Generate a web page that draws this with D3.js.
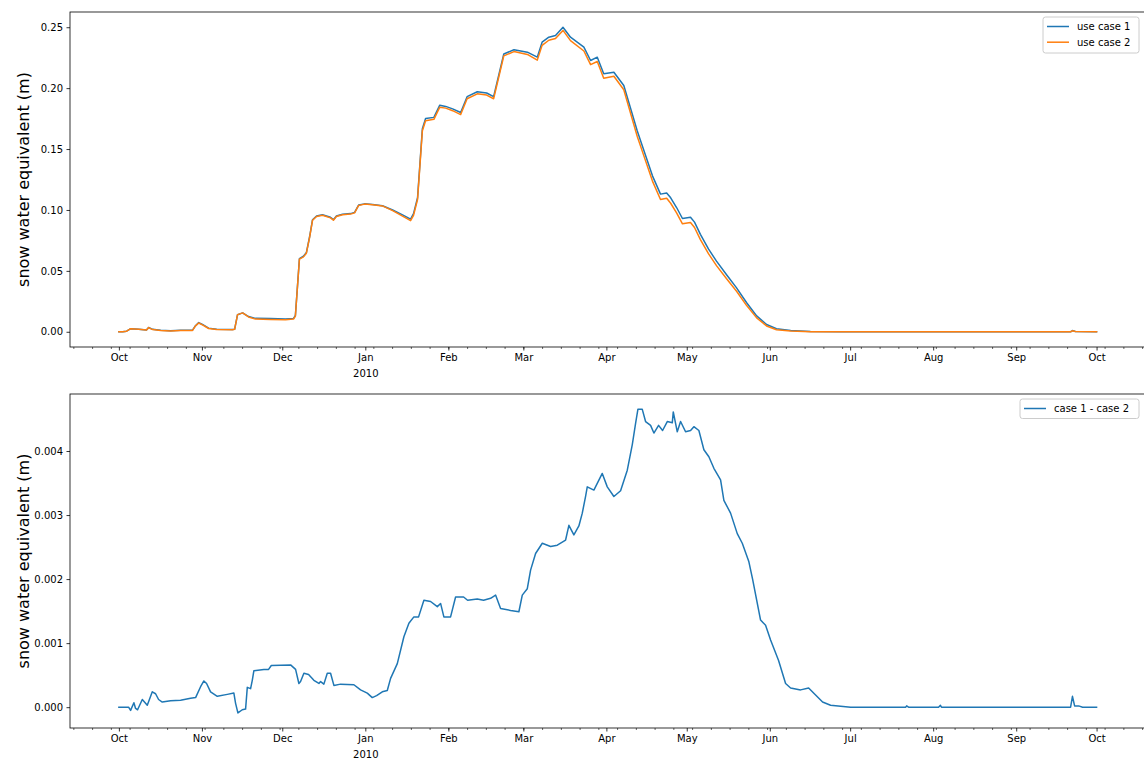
<!DOCTYPE html>
<html>
<head>
<meta charset="utf-8">
<script src="https://cdn.jsdelivr.net/npm/d3@7"></script>
<style>
  html, body { margin: 0; padding: 0; background: #fff; }
  svg { display: block; font-family: "DejaVu Sans", sans-serif; }
</style>
</head>
<body>
<svg id="chart" width="1144" height="761"></svg>
<script>
// Snow water equivalent, water year Oct 2009 - Oct 2010.
// Day offsets are days since 2009-10-01 (UTC).
const seasonStart = Date.UTC(2009, 9, 1);

const caseDay = [0, 1.4, 2.9, 4.4, 7.4, 10.3, 11.1, 12.6, 15.6, 19.3, 23, 27.5, 28.6, 29.8, 31.2, 33.5, 36.5, 42.4, 43.2, 44.3,
  46.2, 48.4, 51, 56.6, 62.2, 65.2, 65.9, 67.4, 68.9, 70, 71.2, 72.3, 73.8, 76, 79, 80.1, 81.2, 83.5, 86.5, 88,
  89.5, 91.7, 94.7, 98.4, 102.2, 105.9, 108.9, 110, 111.5, 113.3, 114.5, 117.6, 119.8, 122, 124.6, 127.6, 130, 133.8, 137.3, 139.9,
  143.7, 147.5, 152.5, 156.2, 158, 160.5, 163, 165.8, 168.6, 173.6, 176.1, 178.6, 181, 184.8, 188.5, 193.5, 196.6, 199.2, 202.2, 204.5,
  206, 208.2, 210.4, 213.4, 214.9, 217.1, 220.1, 223.1, 226.8, 230.6, 234.3, 238.1, 241.8, 245.5, 250.8, 258.2, 269.4, 355.3, 356, 357.1, 365];

const useCase1 = [0, 0, 0.0005, 0.0025, 0.002, 0.0015, 0.0035, 0.002, 0.0012, 0.0008, 0.0012, 0.0013, 0.005, 0.0075, 0.006, 0.003, 0.002, 0.0018, 0.002, 0.014,
  0.0155, 0.0125, 0.011, 0.0108, 0.0105, 0.011, 0.0135, 0.06, 0.062, 0.065, 0.078, 0.092, 0.095, 0.096, 0.094, 0.092, 0.095, 0.0965, 0.097, 0.098,
  0.104, 0.105, 0.1045, 0.1035, 0.1, 0.096, 0.0925, 0.097, 0.11, 0.1667, 0.175, 0.176, 0.186, 0.185, 0.183, 0.18, 0.193, 0.197, 0.196, 0.193,
  0.228, 0.2315, 0.2295, 0.2254, 0.2377, 0.2418, 0.2432, 0.25, 0.2418, 0.2336, 0.2227, 0.2254, 0.2118, 0.2131, 0.2022, 0.165, 0.145, 0.128, 0.113, 0.114,
  0.11, 0.102, 0.093, 0.094, 0.09, 0.08, 0.068, 0.058, 0.047, 0.036, 0.024, 0.013, 0.006, 0.0025, 0.001, 0.0003, 0, 0, 0.001, 0.0003, 0];

const useCase2 = [0, 0, 0.0005, 0.0025, 0.002, 0.0015, 0.0034, 0.0018, 0.0011, 0.0007, 0.0011, 0.0011, 0.0048, 0.0072, 0.0056, 0.0027, 0.0018, 0.0016, 0.002, 0.0141,
  0.0155, 0.0122, 0.0104, 0.0101, 0.0098, 0.0104, 0.0129, 0.0596, 0.0615, 0.0645, 0.0775, 0.0916, 0.0946, 0.0956, 0.0935, 0.0916, 0.0946, 0.0961, 0.0966, 0.0976,
  0.1037, 0.1048, 0.1043, 0.1033, 0.0995, 0.095, 0.0912, 0.0956, 0.1086, 0.1651, 0.1733, 0.1744, 0.1844, 0.1836, 0.1815, 0.1783, 0.1913, 0.1953, 0.1943, 0.1913,
  0.2265, 0.23, 0.2277, 0.223, 0.2351, 0.2393, 0.2407, 0.2474, 0.239, 0.2305, 0.2193, 0.2219, 0.2082, 0.2098, 0.1987, 0.1605, 0.1405, 0.1237, 0.1086, 0.1096,
  0.1055, 0.0976, 0.0886, 0.0897, 0.0856, 0.0757, 0.0641, 0.0543, 0.0437, 0.0333, 0.0217, 0.0114, 0.0048, 0.0017, 0.0007, 0, 0, 0, 0.0008, 0.0003, 0];

const diffDay = [0, 3.62, 4.37, 5.6, 6.23, 6.98, 8.74, 10.6, 12.47, 13.7, 14.82, 16.2, 19.3, 23.04, 26.77, 28.64, 30.5, 31.73, 32.74, 34.23,
  36.74, 40.47, 42.93, 43.57, 44.43, 46.07, 47.3, 47.94, 49.17, 49.8, 50.4, 54.13, 55.89, 56.9, 64.1, 65.97, 67.2, 67.83, 69.07, 70.82,
  72.8, 74.67, 75.3, 76.53, 77.8, 79.03, 80.27, 82.77, 87.73, 90.23, 92.73, 94.6, 96.21, 98.34, 100.2, 101.44, 103.94, 106.4, 108.27, 110.13,
  111.89, 113.87, 116.37, 118.87, 120.1, 121.33, 123.83, 125.7, 128.69, 130.18, 133.8, 136.15, 138.77, 140.63, 142.5, 146.24, 149.33, 150.6, 152.47, 153.7,
  155.57, 158.07, 161.17, 163.67, 166.77, 168, 169.86, 171.73, 173, 174.23, 174.86, 177.33, 180.46, 182.33, 184.8, 187.3, 189.8, 191.67, 192.9, 193.76,
  195.4, 196.63, 198.5, 199.73, 201.49, 202.98, 204.73, 206.6, 206.97, 208.46, 209.7, 211.56, 213.43, 214.66, 216.53, 218.4, 220.26, 222.13, 224.63, 225.86,
  228.36, 230.86, 232.73, 235.2, 236.58, 239.56, 241.43, 243.3, 246.28, 248.9, 250.77, 254.5, 257.5, 260.1, 262.71, 265.7, 273.2, 293.7, 294.1, 294.8,
  306, 306.7, 307.1, 355.3, 356, 356.8, 358.3, 359.8, 365];

const caseDiff = [0, 0, -0.00005, 0.00007, -0.00002, -0.00004, 0.00012, 0.00003, 0.00024, 0.00021, 0.00012, 0.00008, 0.0001, 0.00011, 0.00014, 0.00015, 0.00032, 0.00041, 0.00037, 0.00024,
  0.00017, 0.0002, 0.00022, 0.00006, -0.00009, -0.00004, -0.00003, 0.00031, 0.00029, 0.00042, 0.00057, 0.00059, 0.00059, 0.00065, 0.00066, 0.00059, 0.00037, 0.0004, 0.00053, 0.00051,
  0.00042, 0.00037, 0.0004, 0.00036, 0.00053, 0.00053, 0.00034, 0.00036, 0.00035, 0.00027, 0.00022, 0.00015, 0.00018, 0.00024, 0.00026, 0.00045, 0.00068, 0.0011, 0.00131, 0.00141,
  0.00141, 0.00167, 0.00165, 0.00157, 0.00162, 0.00141, 0.00141, 0.00172, 0.00172, 0.00167, 0.00169, 0.00167, 0.0017, 0.00175, 0.00154, 0.00151, 0.00149, 0.00175, 0.00185, 0.00214,
  0.0024, 0.00256, 0.00251, 0.00253, 0.00261, 0.00284, 0.00269, 0.00283, 0.00303, 0.00329, 0.00344, 0.00339, 0.00365, 0.00344, 0.00329, 0.00338, 0.0037, 0.0041, 0.00443, 0.00465,
  0.00465, 0.00446, 0.0044, 0.00428, 0.0044, 0.00432, 0.00446, 0.00444, 0.00461, 0.0043, 0.00446, 0.0043, 0.00432, 0.00438, 0.00432, 0.00402, 0.00391, 0.00373, 0.00355, 0.00323,
  0.00303, 0.00271, 0.00256, 0.00227, 0.002, 0.00136, 0.00128, 0.00105, 0.00073, 0.00037, 0.0003, 0.00027, 0.0003, 0.00019, 0.00008, 0.00003, 0, 0, 0.00002, 0,
  0, 0.00003, 0, 0, 0.00017, 0.00002, 0.00002, 0, 0];

const topTicks = [0, 0.05, 0.10, 0.15, 0.20, 0.25];
const bottomTicks = [0, 0.001, 0.002, 0.003, 0.004];
const yLabel = "snow water equivalent (m)";
const topLegend = ["use case 1", "use case 2"];
const bottomLegend = ["case 1 - case 2"];

const BLUE = "#1f77b4", ORANGE = "#ff7f0e";
const DAY = 86400000;
const toDate = d => new Date(seasonStart + d * DAY);

const svg = d3.select("#chart");

// Shared time scale with 5% margins around the one-year record
const seasonEnd = Date.UTC(2010, 9, 1);
const pad = (seasonEnd - seasonStart) * 0.05;
const left = 70, pxPerDay = 2.6786;
const x = d3.scaleUtc()
  .domain([new Date(seasonStart - pad), new Date(seasonEnd + pad)])
  .range([left, left + ((seasonEnd - seasonStart + 2 * pad) / DAY) * pxPerDay]);

function drawPanel(opts) {
  const { top, bottom, yDomain, ticks, fmt, series, legend, legendBox, clipId } = opts;
  const y = d3.scaleLinear().domain(yDomain).range([bottom, top]);
  const g = svg.append("g");

  g.append("clipPath").attr("id", clipId)
    .append("rect").attr("x", x.range()[0]).attr("y", top)
    .attr("width", x.range()[1] - x.range()[0]).attr("height", bottom - top);

  // series lines
  const line = d3.line().x(p => x(p[0])).y(p => y(p[1]));
  series.forEach(s => {
    const pts = s.days.map((d, i) => [toDate(d), s.values[i]]);
    g.append("path").datum(pts)
      .attr("clip-path", `url(#${clipId})`)
      .attr("fill", "none").attr("stroke", s.color)
      .attr("stroke-width", 1.5).attr("stroke-linejoin", "round").attr("stroke-linecap", "square")
      .attr("d", line);
  });

  // y axis
  const yAxis = d3.axisLeft(y).tickValues(ticks).tickFormat(d3.format(fmt)).tickSize(3.5).tickPadding(3.5);
  const ya = g.append("g").attr("transform", `translate(${left},0)`).call(yAxis);
  ya.select(".domain").remove();
  ya.selectAll("line").attr("stroke", "#000").attr("stroke-width", 0.8);
  ya.selectAll("text").attr("font-size", 10).attr("fill", "#000")
    .attr("font-family", "DejaVu Sans, sans-serif");

  // x axis: monthly majors, weekly (Monday) minors
  const minor = d3.axisBottom(x).ticks(d3.utcMonday.every(1)).tickSize(2).tickFormat("");
  const xm = g.append("g").attr("transform", `translate(0,${bottom})`).call(minor);
  xm.select(".domain").remove();
  xm.selectAll("line").attr("stroke", "#000").attr("stroke-width", 0.6);

  const major = d3.axisBottom(x).ticks(d3.utcMonth.every(1)).tickSize(3.5).tickPadding(3.5)
    .tickFormat(d3.utcFormat("%b"));
  const xa = g.append("g").attr("transform", `translate(0,${bottom})`).call(major);
  xa.select(".domain").remove();
  xa.selectAll("line").attr("stroke", "#000").attr("stroke-width", 0.8);
  xa.selectAll("text").attr("font-size", 10).attr("fill", "#000")
    .attr("font-family", "DejaVu Sans, sans-serif");
  // year annotation under January
  xa.selectAll(".tick").filter(d => d.getUTCMonth() === 0)
    .append("text").attr("y", 22.5).attr("dy", "0.71em")
    .attr("font-size", 10).attr("fill", "#000").attr("text-anchor", "middle")
    .attr("font-family", "DejaVu Sans, sans-serif")
    .text(d => d3.utcFormat("%Y")(d));

  // spines
  const x0 = x.range()[0], x1 = x.range()[1];
  g.append("rect").attr("x", x0).attr("y", top).attr("width", x1 - x0).attr("height", bottom - top)
    .attr("fill", "none").attr("stroke", "#000").attr("stroke-width", 0.8);

  // y label
  g.append("text")
    .attr("transform", `translate(29,${(top + bottom) / 2}) rotate(-90)`)
    .attr("text-anchor", "middle").attr("font-size", 16).attr("fill", "#000")
    .text(yLabel);

  // legend
  const lg = g.append("g");
  lg.append("rect").attr("x", legendBox.x).attr("y", legendBox.y)
    .attr("width", legendBox.w).attr("height", legendBox.h).attr("rx", 2.5)
    .attr("fill", "#fff").attr("fill-opacity", 0.8).attr("stroke", "#ccc").attr("stroke-width", 1);
  legend.forEach((name, i) => {
    const cy = legendBox.y + 9.5 + i * 15.7;
    lg.append("line").attr("x1", legendBox.x + 4).attr("x2", legendBox.x + 26)
      .attr("y1", cy).attr("y2", cy).attr("stroke", series[i].color).attr("stroke-width", 1.5);
    lg.append("text").attr("x", legendBox.x + 34).attr("y", cy).attr("dy", "0.35em")
      .attr("font-size", 10).attr("fill", "#000").text(name);
  });
}

drawPanel({
  top: 12, bottom: 347, yDomain: [-0.0125, 0.2625], ticks: topTicks, fmt: ".2f", clipId: "clipTop",
  series: [
    { days: caseDay, values: useCase1, color: BLUE },
    { days: caseDay, values: useCase2, color: ORANGE }
  ],
  legend: topLegend,
  legendBox: { x: 1043, y: 17, w: 96, h: 36 }
});

drawPanel({
  top: 394, bottom: 728, yDomain: [-0.000325, 0.00489], ticks: bottomTicks, fmt: ".3f", clipId: "clipBottom",
  series: [
    { days: diffDay, values: caseDiff, color: BLUE }
  ],
  legend: bottomLegend,
  legendBox: { x: 1020, y: 399, w: 119, h: 19.5 }
});
</script>
</body>
</html>
